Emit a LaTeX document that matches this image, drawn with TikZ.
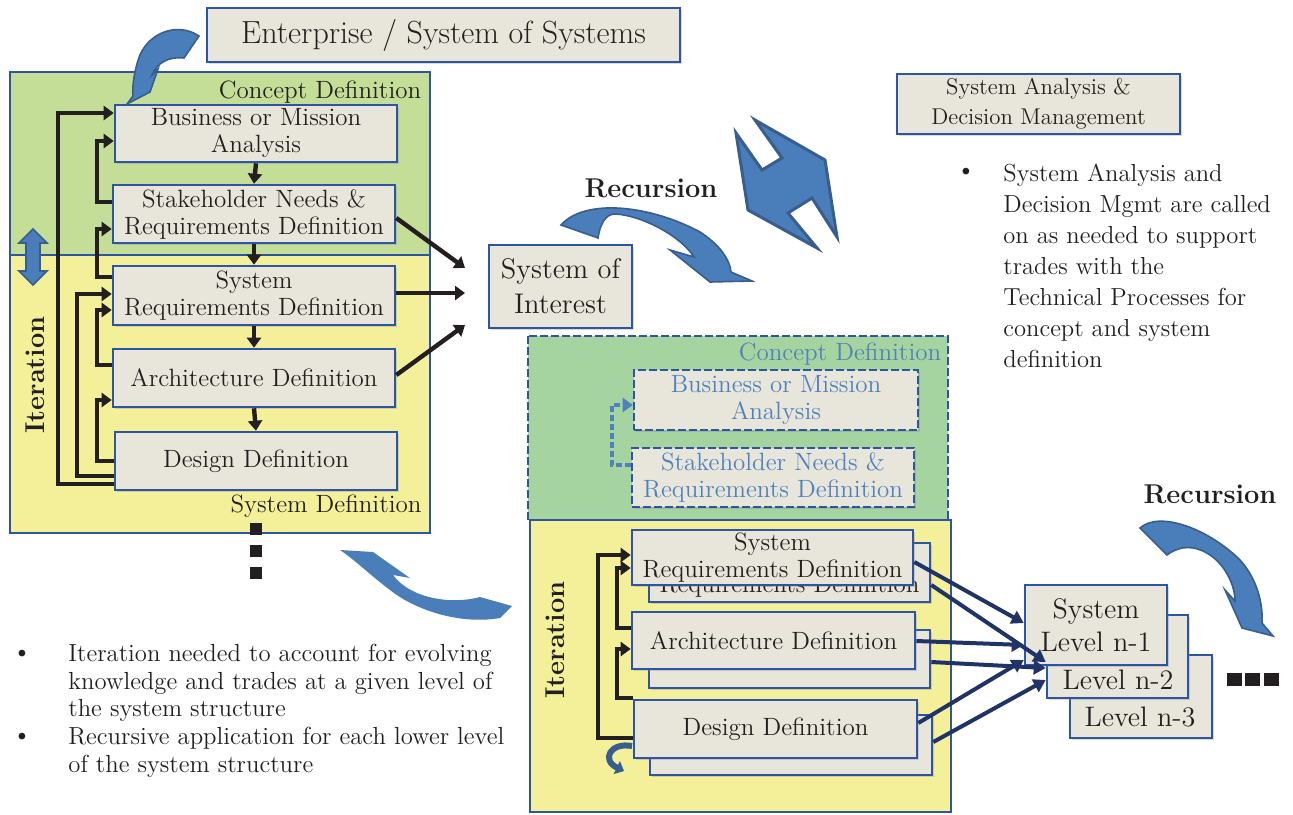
\documentclass[tikz,border=0pt]{standalone}
\usepackage{fontspec}
\usetikzlibrary{arrows.meta,shadows}
\definecolor{boxfill}{RGB}{232,230,218}
\definecolor{boxblue}{RGB}{46,84,164}
\definecolor{conceptgreen}{RGB}{196,222,152}
\definecolor{sysyellow}{RGB}{243,240,153}
\definecolor{ghostgreen}{RGB}{166,212,160}
\definecolor{swoop}{RGB}{74,126,187}
\definecolor{swoopedge}{RGB}{55,94,140}
\definecolor{ghostblue}{RGB}{79,129,189}
\definecolor{navy}{RGB}{31,51,102}
\definecolor{ink}{RGB}{35,31,32}

\tikzset{
  proc/.style={draw=boxblue,line width=1.3pt,fill=boxfill,inner sep=0pt,align=center,text=ink,
    font=\fontsize{12.5}{13.5}\selectfont,
    drop shadow={shadow xshift=1pt,shadow yshift=-1pt,opacity=.3}},
  wh/.style 2 args={minimum width=#1*0.5pt,minimum height=#2*0.5pt},
  ghost/.style={proc,dash pattern=on 4pt off 1.5pt,text=ghostblue},
  fb/.style={draw=ink,line width=2.2pt,-{Triangle[length=5pt,width=7pt]}},
  tolevel/.style={draw=navy,line width=2pt,-{Triangle[length=6pt,width=7pt]}},
  swoosh/.style={fill=swoop,draw=swoopedge,line width=.8pt},
  caption/.style={text=ink,font=\fontsize{12.5}{13.5}\selectfont},
  heavy/.style={text=ink,font=\fontsize{13.6}{15}\selectfont\bfseries},
  note/.style={text=ink,align=left,anchor=north west,inner sep=0pt},
}

\begin{document}
\begin{tikzpicture}[x=0.5pt,y=-0.5pt]
\useasboundingbox (0,0) rectangle (1293,814);

\fill[conceptgreen] (10,72) rectangle (430,255);
\fill[sysyellow] (10,255) rectangle (430,533);
\draw[boxblue,line width=1.3pt] (10,72) rectangle (430,533) (10,255) -- (430,255);
\node[caption] (cdleft) at (320,92) {Concept Definition};
\node[caption] (sdleft) at (326,506) {System Definition};
\node[heavy,rotate=90] (itleft) at (35,375) {Iteration};
\filldraw[swoosh] (33,229) -- (47,243) -- (40,243) -- (40,271) -- (47,271) -- (33,285)
  -- (19,271) -- (26,271) -- (26,243) -- (19,243) -- cycle;

\node[proc,wh={282}{57}] (bma) at (256,133.5) {Business or Mission\\Analysis};
\node[proc,wh={282}{58}] (snrd) at (254,214) {Stakeholder Needs \&\\Requirements Definition};
\node[proc,wh={282}{59}] (srd) at (254,295.5) {System\\Requirements Definition};
\node[proc,wh={282}{58}] (ad) at (254,378) {Architecture Definition};
\node[proc,wh={282}{58}] (dd) at (256,461) {Design Definition};

\foreach \a/\b in {bma/snrd,snrd/srd,srd/ad,ad/dd}
  \draw[fb] (\a.south) -- (\b.north);
\draw[fb] (snrd.west |- 0,202) -- (97,202) -- (97,141) -- (bma.west |- 0,141);
\draw[fb] (dd.west |- 0,484) -- (58,484) -- (58,113) -- (bma.west |- 0,113);
\draw[fb] (srd.west |- 0,277) -- (97,277) -- (97,229) -- (snrd.west |- 0,229);
\draw[fb] (dd.west |- 0,476) -- (77,476) -- (77,294) -- (srd.west |- 0,294);
\draw[fb] (ad.west |- 0,365) -- (97,365) -- (97,310) -- (srd.west |- 0,310);
\draw[fb] (dd.west |- 0,461) -- (97,461) -- (97,400) -- (ad.west |- 0,400);

\foreach \y in {523,545,567}
  \fill[ink] (250,\y) rectangle (262,\y+12);

\filldraw[swoosh] (199,36) .. controls (178,22) and (150,32) .. (140,55)
  .. controls (134,70) and (132,88) .. (133,96) -- (127,104) -- (150,92) -- (158,69)
  -- (152,75) .. controls (156,64) and (168,56) .. (184,58) -- cycle;
\node[proc,wh={473}{54},font=\fontsize{16}{18}\selectfont] (enterprise) at (443.5,35) {Enterprise / System of Systems};

\node[proc,wh={143}{83},font=\fontsize{14.2}{17.5}\selectfont] (soi) at (560.5,286.5) {System of\\Interest};
\coordinate (soiA) at (465,268);
\coordinate (soiB) at (465,293);
\coordinate (soiC) at (465,325);
\draw[fb] (snrd.east |- 0,218) -- (soiA);
\draw[fb] (srd.east |- 0,293) -- (soiB);
\draw[fb] (ad.east |- 0,375) -- (soiC);

\node[heavy] (recmid) at (651,188) {Recursion};
\filldraw[swoosh] (561,225) .. controls (585,198) and (650,205) .. (700,232)
  .. controls (720,245) and (730,260) .. (731,272) -- (752,281) -- (710,282) -- (670,250)
  -- (694,257) .. controls (680,235) and (640,215) .. (615,214)
  .. controls (605,214) and (600,225) .. (598,238) -- cycle;

\filldraw[swoosh,line width=1.5pt] (736,133) -- (762,170) -- (782,158) -- (755,120) -- (825,160)
  -- (837,237) -- (812,198) -- (788,213) -- (817,248) -- (748,210) -- cycle;

\node[proc,wh={283}{60},font=\fontsize{11.4}{15}\selectfont] (sadm) at (1038.5,104) {System Analysis \&\\Decision Management};
\node[text=ink,font=\fontsize{12.3}{15.5}\selectfont] (bulsadm) at (966,173) {\textbullet};
\node[note,font=\fontsize{12.3}{15.5}\selectfont] (notesadm) at (1003,164) {System Analysis and\\Decision Mgmt are called\\on as needed to support\\trades with the\\Technical Processes for\\concept and system\\definition};

\fill[ghostgreen] (528,336) rectangle (948,520);
\draw[boxblue,line width=1.3pt,dash pattern=on 4pt off 1.5pt] (528,336) rectangle (948,520);
\node[caption,text=ghostblue] (cdmid) at (840,354) {Concept Definition};
\node[ghost,wh={284}{60}] (bmac) at (776,400) {Business or Mission\\Analysis};
\node[ghost,wh={282}{59}] (snrdc) at (773,477.5) {Stakeholder Needs \&\\Requirements Definition};
\draw[fb,draw=ghostblue,line width=1.6pt,dash pattern=on 3pt off 1.5pt] (snrdc.west |- 0,465) -- (612,465) -- (612,405) -- (bmac.west |- 0,405);

\fill[sysyellow] (530,520) rectangle (951,812);
\draw[boxblue,line width=1.3pt] (530,520) rectangle (951,812);
\node[heavy,rotate=90] (itmid) at (555,640) {Iteration};
\node[proc,wh={281}{59}] (srdb) at (789.5,572.5) {System\\Requirements Definition};
\node[proc,wh={281}{55}] (srd2) at (772.5,557.5) {System\\Requirements Definition};
\node[proc,wh={281}{58}] (adb) at (789.5,659) {};
\node[proc,wh={283}{57}] (ad2) at (773.5,640.5) {Architecture Definition};
\node[proc,wh={282}{60}] (ddb) at (791,745) {};
\node[proc,wh={283}{58}] (dd2) at (775.5,729) {Design Definition};
\draw[fb] (ad2.west |- 0,628) -- (617,628) -- (617,568) -- (srd2.west |- 0,568);
\draw[fb] (dd2.west |- 0,698) -- (617,698) -- (617,649) -- (ad2.west |- 0,649);
\draw[fb] (dd2.west |- 0,738) -- (598,738) -- (598,555) -- (srd2.west |- 0,555);
\draw[swoopedge,line width=3pt,-{Triangle[length=4pt,width=7pt]}] (632,746) .. controls (610,742) and (601,760) .. (624,771);

\node[proc,wh={142}{83}] (lv3) at (1141,696.5) {};
\node[caption,font=\fontsize{14.1}{16.5}\selectfont] (lv3t) at (1140,717) {Level n-3};
\node[proc,wh={141}{83}] (lv2) at (1117.5,656.5) {};
\node[caption,font=\fontsize{14.1}{16.5}\selectfont] (lv2t) at (1118,680) {Level n-2};
\node[proc,wh={142}{80},font=\fontsize{14.1}{16.5}\selectfont] (lv1) at (1096,625) {System\\Level n-1};
\draw[tolevel] (srd2.east |- 0,562) -- (lv1.west |- 0,623);
\draw[tolevel] (srdb.east |- 0,585) -- (lv2.west |- 0,662);
\draw[tolevel] (ad2.east |- 0,641) -- (lv1.west |- 0,645);
\draw[tolevel] (adb.east |- 0,662) -- (lv2.west |- 0,668);
\draw[tolevel] (dd2.east |- 0,723) -- (lv1.west |- 0,660);
\draw[tolevel] (ddb.east |- 0,742) -- (lv2.west |- 0,680);
\foreach \x in {1227,1245,1264}
  \fill[ink] (\x,673) rectangle (\x+15,686);

\node[heavy] (recright) at (1210,494) {Recursion};
\filldraw[swoosh] (1140,528) .. controls (1160,510) and (1210,530) .. (1240,560)
  .. controls (1258,580) and (1263,605) .. (1262,623) -- (1273,636) -- (1242,628)
  -- (1225,590) -- (1235,601) .. controls (1235,585) and (1225,565) .. (1210,555)
  .. controls (1195,545) and (1180,545) .. (1167,555) -- cycle;

\filldraw[swoosh,draw=none] (340,550) -- (373,552) -- (410,578) -- (393,575)
  .. controls (410,598) and (450,605) .. (480,597) -- (512,606) -- (500,618)
  .. controls (460,625) and (415,610) .. (390,590) .. controls (370,575) and (355,560) .. cycle;

\node[text=ink,font=\fontsize{12.35}{13.75}\selectfont] (bulA) at (22,655) {\textbullet};
\node[note,font=\fontsize{12.35}{13.75}\selectfont] (noteA) at (68,644) {Iteration needed to account for evolving\\knowledge and trades at a given level of\\the system structure};
\node[text=ink,font=\fontsize{12.35}{13.75}\selectfont] (bulB) at (22,738) {\textbullet};
\node[note,font=\fontsize{12.35}{13.75}\selectfont] (noteB) at (68,727) {Recursive application for each lower level\\of the system structure};
\end{tikzpicture}
\end{document}
